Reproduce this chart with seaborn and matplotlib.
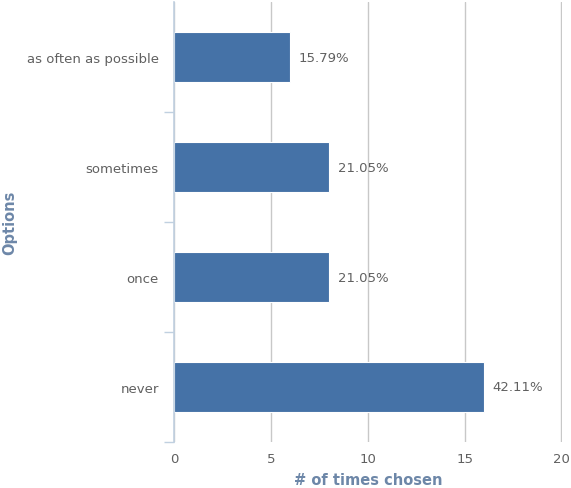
import matplotlib
matplotlib.use("Agg")
import matplotlib.pyplot as plt
import seaborn as sns
import pandas as pd
from matplotlib.ticker import FixedLocator

categories = ["as often as possible", "sometimes", "once", "never"]
counts = [6, 8, 8, 16]
pct_labels = ["15.79%", "21.05%", "21.05%", "42.11%"]

df = pd.DataFrame({"Options": categories, "count": counts})

sns.set_style("white")
plt.rcParams['font.family'] = ['DejaVu Sans']

L, R, B, T = 174, 562, 443, 3
fig = plt.figure(figsize=(5.71, 4.89), dpi=100)
ax = fig.add_axes([L/571, (489-B)/489, (R-L)/571, (B-T)/489])

sns.barplot(data=df, y="Options", x="count", orient="h", color="#4572a7",
            saturation=1, width=0.455, ax=ax, zorder=3,
            edgecolor="#ffffff", linewidth=0.8)

for i, (c, lab) in enumerate(zip(counts, pct_labels)):
    ax.text(c + 0.45, i, lab, ha="left", va="center", fontsize=9.5, color="#606060")

ax.set_xlim(0, 20.03)
ax.set_ylim(3.5, -0.5)
ax.set_xticks([0, 5, 10, 15, 20])
ax.grid(axis="x", color="#c8c8c8", linewidth=1, zorder=0)
ax.set_axisbelow(True)

for s in ["top", "right", "bottom"]:
    ax.spines[s].set_visible(False)
ax.spines["left"].set_color("#c0d0e0")
ax.spines["left"].set_linewidth(1.2)
ax.spines["left"].set_zorder(4)

ax.tick_params(axis="x", length=0, labelsize=9.5, labelcolor="#606060", pad=7)
ax.tick_params(axis="y", which="major", left=False, length=0, labelsize=9.5, labelcolor="#606060", pad=11)
ax.yaxis.set_minor_locator(FixedLocator([0.5, 1.5, 2.5, 3.5]))
ax.tick_params(axis="y", which="minor", left=True, length=7, color="#c0d0e0", width=1)

ax.set_xlabel("# of times chosen", fontsize=10.5, fontweight="bold", color="#6d87a8", labelpad=5)
ax.set_ylabel("Options", fontsize=10.5, fontweight="bold", color="#6d87a8")
ax.yaxis.label.set_va("center")
ax.yaxis.set_label_coords((10 - L) / (R - L), 0.5)

fig.savefig("out.png", dpi=100)
